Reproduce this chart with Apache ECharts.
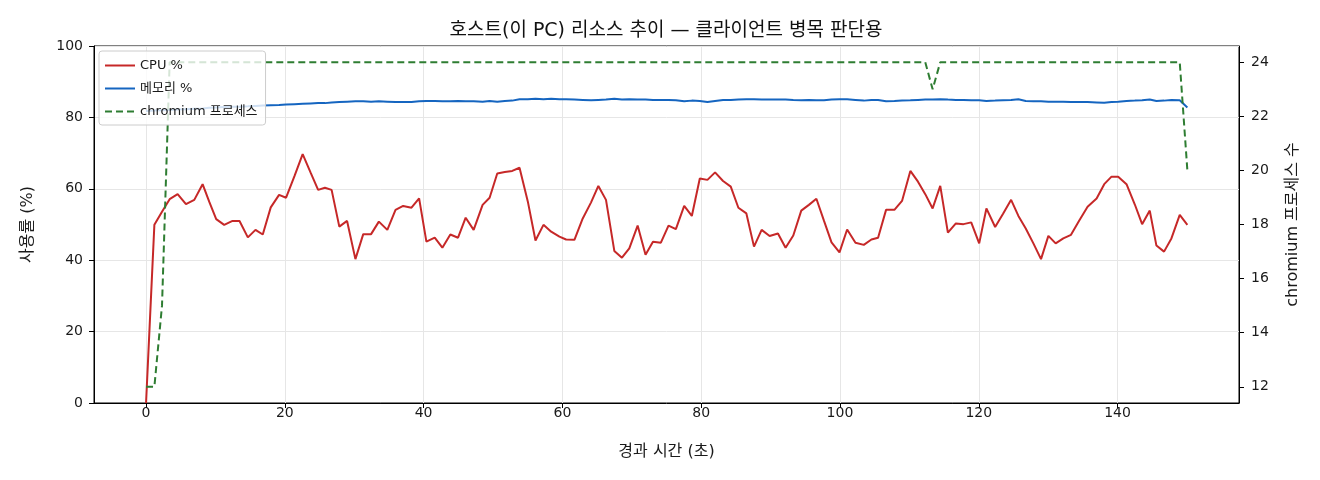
<!DOCTYPE html>
<html>
<head>
<meta charset="utf-8">
<script src="https://cdn.jsdelivr.net/npm/echarts@6/dist/echarts.min.js"></script>
<style>
  html, body { margin: 0; padding: 0; background: #fff; }
  #chart { width: 1320px; height: 480px; }
</style>
</head>
<body>
<div id="chart"></div>
<script>
// elapsed seconds of each sample
const times = [
  0, 1.2, 2.3, 3.4, 4.55, 5.75, 6.95, 8.15, 9.1, 10.11, 11.26, 12.46, 13.47, 14.67, 15.77, 16.82,
  17.97, 19.17, 20.18, 21.4, 22.57, 23.7, 24.8, 25.78, 26.74, 27.85, 28.97, 30.17, 31.3, 32.43,
  33.55, 34.77, 35.95, 37.05, 38.25, 39.35, 40.4, 41.6, 42.7, 43.85, 44.96, 46.06, 47.21, 48.5,
  49.51, 50.61, 51.7, 52.77, 53.82, 55.02, 56.12, 57.27, 58.38, 59.57, 60.53, 61.73, 62.93, 64.13,
  65.18, 66.28, 67.48, 68.58, 69.64, 70.84, 71.98, 73.05, 74.19, 75.29, 76.35, 77.55, 78.65, 79.8,
  80.9, 82.0, 83.15, 84.26, 85.36, 86.51, 87.61, 88.71, 89.86, 91.06, 92.16, 93.27, 94.42, 95.52,
  96.6, 97.7, 98.78, 99.93, 101.03, 102.23, 103.43, 104.53, 105.49, 106.64, 107.84, 108.94, 110.14,
  111.24, 112.29, 113.35, 114.45, 115.55, 116.7, 117.8, 118.91, 120.06, 121.1, 122.36, 123.5,
  124.66, 125.71, 126.77, 127.87, 128.97, 130.03, 131.08, 132.18, 133.29, 134.44, 135.68, 136.98,
  138.08, 139.13, 140.09, 141.29, 142.49, 143.54, 144.64, 145.6, 146.7, 147.76, 148.96, 150.06
];
const cpu = [
  0, 49.9, 53.6, 57.1, 58.5, 55.7, 56.9, 61.3, 56.4, 51.5, 49.9, 51.0, 51.0, 46.4, 48.5, 47.2,
  54.8, 58.3, 57.5, 63.6, 69.7, 64.6, 59.7, 60.3, 59.7, 49.4, 51.0, 40.3, 47.3, 47.3,
  50.8, 48.5, 54.1, 55.2, 54.7, 57.3, 45.2, 46.3, 43.5, 47.2, 46.3, 51.9, 48.5, 55.5,
  57.5, 64.3, 64.7, 65.0, 65.9, 56.4, 45.5, 49.9, 48.0, 46.6, 45.8, 45.7, 51.7, 56.2,
  60.8, 56.9, 42.6, 40.7, 43.3, 49.7, 41.5, 45.2, 44.9, 49.7, 48.7, 55.2, 52.4, 62.9,
  62.5, 64.6, 62.2, 60.6, 54.7, 53.1, 43.8, 48.5, 46.8, 47.5, 43.5, 46.9, 53.9, 55.5,
  57.2, 51.0, 45.0, 42.2, 48.6, 44.9, 44.3, 45.8, 46.3, 54.1, 54.1, 56.6, 65.0,
  62.0, 58.5, 54.5, 60.8, 47.7, 50.3, 50.1, 50.6, 44.7, 54.5, 49.3, 53.0,
  56.9, 52.4, 48.9, 44.7, 40.3, 46.8, 44.7, 46.1, 47.1, 51.0, 55.0, 57.3,
  61.3, 63.4, 63.4, 61.3, 55.6, 50.1, 53.9, 44.1, 42.4, 46.1, 52.7, 49.9
];
const mem = [
  81.8, 81.9, 82.0, 82.1, 82.2, 82.3, 82.4, 82.5, 82.7, 82.8, 82.9, 83.0, 83.0, 83.1, 83.2, 83.3,
  83.4, 83.5, 83.6, 83.7, 83.8, 83.9, 84.0, 84.0, 84.2, 84.3, 84.4, 84.5, 84.5, 84.4,
  84.5, 84.4, 84.3, 84.3, 84.3, 84.5, 84.6, 84.6, 84.5, 84.5, 84.6, 84.5, 84.5, 84.4,
  84.6, 84.4, 84.6, 84.7, 85.1, 85.1, 85.2, 85.1, 85.2, 85.1, 85.1, 85.0, 84.9, 84.8,
  84.9, 85.0, 85.2, 85.0, 85.1, 85.0, 85.0, 84.9, 84.9, 84.9, 84.8, 84.5, 84.7, 84.6,
  84.3, 84.6, 84.9, 84.9, 85.0, 85.1, 85.1, 85.0, 85.0, 85.0, 85.0, 84.9, 84.8, 84.9,
  84.8, 84.8, 85.0, 85.1, 85.1, 84.9, 84.7, 84.9, 84.9, 84.5, 84.6, 84.7, 84.8,
  84.9, 85.0, 85.0, 85.1, 85.0, 84.9, 84.9, 84.8, 84.8, 84.6, 84.7, 84.8,
  84.9, 85.1, 84.6, 84.5, 84.5, 84.4, 84.4, 84.4, 84.3, 84.3, 84.3, 84.2,
  84.1, 84.3, 84.4, 84.6, 84.7, 84.8, 85.0, 84.6, 84.7, 84.9, 84.8, 82.8
];
const procs = [
  12, 12, 15, 24, 24, 24, 24, 24, 24, 24, 24, 24, 24, 24, 24, 24,
  24, 24, 24, 24, 24, 24, 24, 24, 24, 24, 24, 24, 24, 24,
  24, 24, 24, 24, 24, 24, 24, 24, 24, 24, 24, 24, 24, 24,
  24, 24, 24, 24, 24, 24, 24, 24, 24, 24, 24, 24, 24, 24,
  24, 24, 24, 24, 24, 24, 24, 24, 24, 24, 24, 24, 24, 24,
  24, 24, 24, 24, 24, 24, 24, 24, 24, 24, 24, 24, 24, 24,
  24, 24, 24, 24, 24, 24, 24, 24, 24, 24, 24, 24, 24,
  24, 24, 23, 24, 24, 24, 24, 24, 24, 24, 24, 24,
  24, 24, 24, 24, 24, 24, 24, 24, 24, 24, 24, 24,
  24, 24, 24, 24, 24, 24, 24, 24, 24, 24, 24, 20
];
const xTicks = [0, 20, 40, 60, 80, 100, 120, 140];
const procTicks = [12, 14, 16, 18, 20, 22, 24];

const FONT = '"DejaVu Sans", "Noto Sans CJK KR", sans-serif';
const INK = '#1a1a1a';
const pairs = (vals) => times.map((t, i) => [t, vals[i]]);
const nameStyle = { fontFamily: FONT, fontSize: 16, color: INK };
const tickStyle = { fontFamily: FONT, fontSize: 14, color: INK };

let instance = echarts.init(document.getElementById('chart'));
instance.setOption({
    animation: false,
    textStyle: { fontFamily: FONT },
    title: {
        text: '호스트(이 PC) 리소스 추이 — 클라이언트 병목 판단용',
        left: 661,
        textAlign: 'center',
        top: 17,
        textStyle: { fontFamily: FONT, fontSize: 19, fontWeight: 'normal', color: '#111' }
    },
    grid: {
        left: 94, right: 81, top: 46, bottom: 77,
        show: true, borderColor: '#000', borderWidth: 1
    },
    legend: {
        orient: 'vertical',
        left: 99, top: 51,
        itemWidth: 30, itemHeight: 10, itemGap: 10,
        padding: [8, 8, 7, 5],
        itemStyle: { opacity: 0 },
        backgroundColor: 'rgba(255,255,255,0.8)',
        borderColor: '#cccccc', borderWidth: 1, borderRadius: 3,
        textStyle: { fontFamily: FONT, fontSize: 13, color: INK },
        data: ['CPU %', '메모리 %', 'chromium 프로세스']
    },
    xAxis: {
        type: 'value',
        min: -7.5, max: 157.5,
        name: '경과 시간 (초)',
        nameLocation: 'middle',
        nameGap: 41,
        nameTextStyle: nameStyle,
        axisLine: { show: true, onZero: false, lineStyle: { color: '#000' } },
        axisTick: { show: true, length: 5, customValues: xTicks, lineStyle: { color: '#000' } },
        axisLabel: Object.assign({ customValues: xTicks, margin: 3 }, tickStyle),
        splitLine: { show: true, lineStyle: { color: '#e6e6e6' } }
    },
    yAxis: [{
        type: 'value',
        min: 0, max: 100, interval: 20,
        name: '사용률 (%)',
        nameLocation: 'middle',
        nameGap: 58,
        nameTextStyle: nameStyle,
        axisLine: { show: true, onZero: false, lineStyle: { color: '#000' } },
        axisTick: { show: true, length: 5, lineStyle: { color: '#000' } },
        axisLabel: Object.assign({ margin: 11 }, tickStyle),
        splitLine: { show: true, lineStyle: { color: '#e6e6e6' } }
    }, {
        type: 'value',
        min: 11.4, max: 24.6,
        position: 'right',
        name: 'chromium 프로세스 수',
        nameLocation: 'middle',
        nameGap: 46,
        nameRotate: 90,
        nameTextStyle: nameStyle,
        axisLine: { show: true, onZero: false, lineStyle: { color: '#000' } },
        axisTick: { show: true, length: 5, customValues: procTicks, lineStyle: { color: '#000' } },
        axisLabel: Object.assign({ customValues: procTicks, margin: 12 }, tickStyle),
        splitLine: { show: false }
    }],
    series: [{
        name: 'CPU %',
        type: 'line',
        yAxisIndex: 0,
        symbol: 'none',
        data: pairs(cpu),
        lineStyle: { color: '#c62828', width: 2 },
        itemStyle: { color: '#c62828' }
    }, {
        name: '메모리 %',
        type: 'line',
        yAxisIndex: 0,
        symbol: 'none',
        data: pairs(mem),
        lineStyle: { color: '#1565c0', width: 2 },
        itemStyle: { color: '#1565c0' }
    }, {
        name: 'chromium 프로세스',
        type: 'line',
        yAxisIndex: 1,
        symbol: 'none',
        data: pairs(procs),
        lineStyle: { color: '#2e7d32', width: 2, type: [7, 4] },
        itemStyle: { color: '#2e7d32' }
    }]
});
</script>
</body>
</html>
